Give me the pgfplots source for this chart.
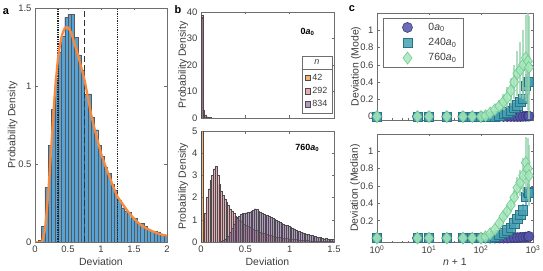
\documentclass[border=0pt]{standalone}
\usepackage{fontspec}
\setmainfont{Liberation Sans}
\usepackage{pgfplots}
\usepackage{pgfplotstable}
\pgfplotsset{compat=1.18}
\definecolor{txt}{RGB}{60,60,60}
\definecolor{axc}{RGB}{110,110,110}
\definecolor{barblue}{RGB}{88,163,214}
\definecolor{fitor}{RGB}{247,138,62}
\definecolor{cA}{RGB}{240,130,20}
\definecolor{cB}{RGB}{215,115,130}
\definecolor{cC}{RGB}{125,85,155}
\definecolor{pcirc}{RGB}{85,85,170}
\definecolor{pcircd}{RGB}{55,55,125}
\definecolor{tsq}{RGB}{70,160,178}
\definecolor{tsqd}{RGB}{40,115,135}
\definecolor{gdi}{RGB}{165,232,188}
\definecolor{gdid}{RGB}{115,200,145}

% panel a histogram (left edge, density)
\pgfplotstableread{
x y
0 0
0.05 0.01
0.10 0.1
0.15 0.35
0.20 0.62
0.25 0.85
0.30 1.05
0.35 1.22
0.40 1.32
0.45 1.44
0.50 1.46
0.55 1.46
0.60 1.31
0.65 1.2
0.70 1.1
0.75 0.95
0.80 0.95
0.85 0.8
0.90 0.72
0.95 0.62
1.00 0.55
1.05 0.48
1.10 0.44
1.15 0.37
1.20 0.33
1.25 0.27
1.30 0.22
1.35 0.2
1.40 0.19
1.45 0.15
1.50 0.15
1.55 0.12
1.60 0.12
1.65 0.1
1.70 0.08
1.75 0.07
1.80 0.07
1.85 0.065
1.90 0.05
1.95 0.04
2.00 0.04
}\histA
\pgfplotstableread{
x y
0 0
0.1 0
0.15 0.08
0.2 0.31
0.25 0.63
0.3 0.95
0.35 1.18
0.4 1.31
0.45 1.37
0.5 1.375
0.55 1.34
0.6 1.27
0.65 1.2
0.7 1.12
0.75 1.04
0.8 0.93
0.85 0.82
0.9 0.73
1.0 0.57
1.1 0.45
1.2 0.34
1.25 0.29
1.3 0.26
1.4 0.2
1.5 0.15
1.6 0.11
1.7 0.085
1.8 0.065
1.9 0.05
2.0 0.04
}\fitA
% panel b bottom, n=292
\pgfplotstableread{
x y
0.02 0.5
0.04 1.3
0.06 2.0
0.08 2.4
0.10 2.8
0.12 3.0
0.14 3.3
0.16 3.42
0.18 3.0
0.20 2.6
0.22 2.3
0.24 2.1
0.26 1.95
0.28 1.8
0.30 1.65
0.32 1.5
0.34 1.4
0.36 1.28
0.38 1.18
0.40 1.1
0.42 1.0
0.44 0.95
0.46 0.88
0.48 0.8
0.50 0.75
0.52 0.7
0.54 0.66
0.56 0.62
0.58 0.58
0.60 0.55
0.62 0.52
0.64 0.48
0.66 0.45
0.68 0.42
0.70 0.4
0.72 0.37
0.74 0.35
0.76 0.32
0.78 0.3
0.80 0.28
0.82 0.26
0.84 0.24
0.86 0.22
0.88 0.21
0.90 0.2
0.92 0.18
0.94 0.17
0.96 0.16
0.98 0.15
1.00 0.15
1.02 0.13
1.04 0.12
1.06 0.12
1.08 0.11
1.10 0.1
1.12 0.09
1.14 0.09
1.16 0.08
1.18 0.08
1.20 0.07
1.22 0.06
1.24 0.06
1.26 0.05
1.28 0.05
1.30 0.05
1.32 0.04
1.34 0.04
1.36 0.03
1.38 0.03
1.40 0.03
1.42 0.03
1.44 0.02
1.46 0.02
1.48 0.02
1.50 0.02
}\histBb
% panel b bottom, n=834
\pgfplotstableread{
x y
0.20 0.02
0.22 0.05
0.24 0.08
0.26 0.12
0.28 0.18
0.30 0.28
0.32 0.45
0.34 0.62
0.36 0.8
0.38 0.95
0.40 1.08
0.42 1.18
0.44 1.25
0.46 1.28
0.48 1.3
0.50 1.32
0.52 1.33
0.54 1.36
0.56 1.4
0.58 1.45
0.60 1.5
0.62 1.47
0.64 1.4
0.66 1.35
0.68 1.3
0.70 1.27
0.72 1.22
0.74 1.2
0.76 1.15
0.78 1.1
0.80 1.07
0.82 1.02
0.84 0.98
0.86 0.92
0.88 0.88
0.90 0.85
0.92 0.8
0.94 0.77
0.96 0.75
0.98 0.72
1.00 0.68
1.02 0.62
1.04 0.6
1.06 0.55
1.08 0.5
1.10 0.47
1.12 0.45
1.14 0.42
1.16 0.38
1.18 0.35
1.20 0.34
1.22 0.3
1.24 0.32
1.26 0.28
1.28 0.27
1.30 0.22
1.32 0.2
1.34 0.23
1.36 0.18
1.38 0.15
1.40 0.16
1.42 0.12
1.44 0.13
1.46 0.11
1.48 0.12
1.50 0.12
}\histBc
% panel c: n+1, mode (value, error) for 0a0 (p), 240a0 (t), 760a0 (g)
\pgfplotstableread{
x pm pme tm tme gm gme
1 0 0 0 0 0 0
6 0 0 0 0 0 0
10 0 0 0 0 0 0
22 0 0 0 0 0 0
45 0 0 0 0 0 0
68 0 0 0 0 0 0
100 0 0 0 0 0 0
122 0 0.003 0 0 0.01 0.02
150 0 0.003 0 0.005 0.04 0.03
185 0 0.004 0.003 0.01 0.08 0.05
225 0 0.004 0.01 0.015 0.12 0.07
270 0 0.005 0.03 0.02 0.17 0.09
320 0 0.005 0.05 0.03 0.22 0.12
375 0 0.005 0.07 0.04 0.3 0.15
435 0 0.006 0.1 0.05 0.4 0.2
500 0 0.006 0.13 0.06 0.5 0.26
570 0 0.007 0.17 0.08 0.54 0.32
645 0.002 0.008 0.21 0.1 0.6 0.4
725 0.003 0.01 0.36 0.13 0.68 0.5
800 0.005 0.01 0.4 0.15 0.64 0.56
835 0.005 0.01 0.4 0.15 0.57 0.6
}\modeC
% panel c: median
\pgfplotstableread{
x pm pme tm tme gm gme
1 0 0 0 0 0 0
6 0 0 0 0 0 0
10 0 0 0 0 0 0
22 0 0 0 0 0 0
45 0 0 0 0 0 0
68 0 0 0 0 0 0
100 0 0 0 0 0 0
122 0 0.002 0.002 0.003 0.015 0.01
150 0 0.002 0.006 0.005 0.05 0.02
185 0 0.003 0.02 0.01 0.1 0.03
225 0 0.003 0.035 0.015 0.17 0.04
270 0 0.004 0.06 0.02 0.25 0.05
320 0 0.004 0.09 0.02 0.31 0.06
375 0.002 0.005 0.12 0.03 0.38 0.07
435 0.004 0.005 0.17 0.035 0.47 0.09
500 0.006 0.006 0.22 0.04 0.58 0.12
570 0.008 0.006 0.27 0.05 0.64 0.15
645 0.01 0.007 0.32 0.07 0.72 0.2
725 0.012 0.008 0.48 0.1 0.87 0.3
800 0.015 0.01 0.53 0.11 0.8 0.35
835 0.02 0.01 0.52 0.1 0.72 0.35
}\medC

\pgfplotsset{
  mystyle/.style={
    scale only axis,
    axis line style={axc, line width=0.5bp},
    every tick/.style={axc, line width=0.5bp},
    tick align=inside,
    major tick length=2.5bp, minor tick length=1.5bp,
    tick label style={font=\fontsize{9.5}{11}\selectfont, text=txt},
    label style={font=\fontsize{10.5}{12}\selectfont, text=txt},
    /pgf/number format/assume math mode=true,
  },
  histb/.style={ybar interval, draw=black!70, line width=0.3bp, fill opacity=0.6,
    legend image code/.code={\draw[##1, draw=black!70, line width=0.4bp] (0bp,-2.7bp) rectangle (5.4bp,2.7bp);}},
  pser/.style={only marks, mark=*, mark size=5bp, mark options={fill=pcirc, draw=pcircd, line width=0.6bp, fill opacity=0.85},
    error bars/.cd, y dir=both, y explicit, error mark=none, error bar style={pcirc, line width=1.6bp, opacity=0.7}},
  tser/.style={only marks, mark=square*, mark size=4.6bp, mark options={fill=tsq, draw=tsqd, line width=0.6bp, fill opacity=0.85},
    error bars/.cd, y dir=both, y explicit, error mark=none, error bar style={tsq, line width=1.8bp, opacity=0.7}},
  gser/.style={only marks, mark=diamond*, mark size=6bp, mark options={fill=gdi, draw=gdid, line width=0.6bp, fill opacity=0.85},
    error bars/.cd, y dir=both, y explicit, error mark=none, error bar style={gdi!90!black, line width=2.2bp, opacity=0.75}},
}

\begin{document}
\begin{tikzpicture}
% ---------------- panel a ----------------
\begin{axis}[mystyle, at={(35bp,29bp)}, anchor=south west, width=132bp, height=234bp,
  xmin=0, xmax=2, ymin=0, ymax=1.5, xtick={0,0.5,1,1.5,2}, ytick={0,0.5,1,1.5},
  xlabel={Deviation}, ylabel={Probability Density},
  ylabel style={at={(axis description cs:-0.17,0.5)}, anchor=center},
  xlabel style={at={(axis description cs:0.5,-0.085)}, anchor=center}]
\addplot[ybar interval, fill=barblue, draw=black!65, line width=0.3bp] table[x=x,y=y] {\histA};
\addplot[densely dotted, black!85, line width=1.3bp] coordinates {(0.35,0) (0.35,1.5)};
\addplot[densely dotted, black!85, line width=1.3bp] coordinates {(1.25,0) (1.25,1.5)};
\addplot[dash pattern=on 6bp off 3bp, black!80, line width=1.6bp] coordinates {(0.75,0) (0.75,1.5)};
\addplot[fitor, line width=2.3bp, smooth, tension=0.4] table[x=x,y=y] {\fitA};
\end{axis}
% ---------------- panel b top ----------------
\begin{axis}[mystyle, at={(201bp,153bp)}, anchor=south west, width=133bp, height=106bp,
  xmin=0, xmax=1.5, ymin=0, ymax=40, xtick={0,0.5,1,1.5}, xticklabels={}, ytick={0,10,20,30,40},
  ylabel={Probability Density},
  ylabel style={at={(axis description cs:-0.135,0.5)}, anchor=center},
  legend cell align=left,
  legend style={name=blegend, at={(0.985,0.047)}, anchor=south east, draw=axc, line width=0.5bp, fill=white,
    font=\fontsize{9}{9.5}\selectfont, text=txt, inner xsep=2.5bp, inner ysep=2.5bp, row sep=1.5bp}]
\addplot[histb, fill=cA] coordinates {(0,38.8) (0.02,0.4) (0.04,0.4)};
\addlegendentry{42\hspace{6bp}}
\addplot[histb, fill=cB] coordinates {(0,38.2) (0.02,1.5) (0.04,0.3) (0.06,0.1) (0.08,0.1)};
\addlegendentry{292}
\addplot[histb, fill=cC] coordinates {(0,37.6) (0.02,3.0) (0.04,1.2) (0.06,0.5) (0.08,0.3) (0.1,0.15) (0.12,0.08) (0.14,0.05) (0.16,0.05)};
\addlegendentry{834}
\node[anchor=east, font=\bfseries\fontsize{9}{10}\selectfont, text=black] at (axis description cs:0.88,0.81) {0\textit{a}\textsubscript{0}};
\end{axis}
\draw[axc, line width=0.5bp, fill=white] (blegend.north west) -- ++(0,13.5bp) -| (blegend.north east);
\node[font=\fontsize{9}{10}\selectfont, text=txt] at ([yshift=6.8bp]blegend.north) {\textit{n}};
% ---------------- panel b bottom ----------------
\begin{axis}[mystyle, at={(201bp,29bp)}, anchor=south west, width=133bp, height=111bp,
  xmin=0, xmax=1.5, ymin=0, ymax=5, xtick={0,0.5,1,1.5}, ytick={0,1,2,3,4,5},
  xlabel={Deviation}, ylabel={Probability Density},
  ylabel style={at={(axis description cs:-0.135,0.5)}, anchor=center},
  xlabel style={at={(axis description cs:0.5,-0.18)}, anchor=center}]
\addplot[histb, fill=cA] coordinates {(0,45) (0.02,1.1) (0.04,1.1)};
\addplot[histb, fill=cB] table[x=x,y=y] {\histBb};
\addplot[histb, fill=cC] table[x=x,y=y] {\histBc};
\node[anchor=east, font=\bfseries\fontsize{9}{10}\selectfont, text=black] at (axis description cs:0.915,0.845) {760\textit{a}\textsubscript{0}};
\end{axis}
% ---------------- panel c top ----------------
\begin{axis}[mystyle, at={(377bp,151bp)}, anchor=south west, width=156bp, height=107bp,
  xmode=log, xmin=1, xmax=1000, ymin=-0.04, ymax=1.2, xtick={1,10,100,1000}, xticklabels={},
  ytick={0,0.2,0.4,0.6,0.8,1}, ylabel={Deviation (Mode)},
  ylabel style={at={(axis description cs:-0.135,0.5)}, anchor=center},
  clip mode=individual,
  legend cell align=left,
  legend style={at={(0.04,0.955)}, anchor=north west, draw=axc, line width=0.5bp, fill=white,
    font=\fontsize{10.5}{12}\selectfont, text=txt, inner xsep=5bp, inner ysep=3bp, row sep=2.5bp},
  legend image code/.code={\path[draw=none,fill=none] (0bp,-5bp) rectangle (38bp,5bp); \draw[mark repeat=2,mark phase=2,#1] plot coordinates {(0bp,0bp) (19bp,0bp) (38bp,0bp)};}]
\addplot[pser] table[x=x,y=pm,y error=pme] {\modeC};
\addlegendentry{0\textit{a}\textsubscript{0}}
\addplot[tser] table[x=x,y=tm,y error=tme] {\modeC};
\addlegendentry{240\textit{a}\textsubscript{0}}
\addplot[gser] table[x=x,y=gm,y error=gme] {\modeC};
\addlegendentry{760\textit{a}\textsubscript{0}}
\end{axis}
% ---------------- panel c bottom ----------------
\begin{axis}[mystyle, at={(377bp,29bp)}, anchor=south west, width=156bp, height=108bp,
  xmode=log, xmin=1, xmax=1000, ymin=-0.045, ymax=1.2, xtick={1,10,100,1000},
  xticklabels={10\textsuperscript{0},10\textsuperscript{1},10\textsuperscript{2},10\textsuperscript{3}},
  ytick={0.2,0.4,0.6,0.8,1}, ylabel={Deviation (Median)}, xlabel={\textit{n} + 1},
  ylabel style={at={(axis description cs:-0.14,0.5)}, anchor=center},
  xlabel style={at={(axis description cs:0.5,-0.18)}, anchor=center},
  clip mode=individual]
\addplot[pser] table[x=x,y=pm,y error=pme] {\medC};
\addplot[tser] table[x=x,y=tm,y error=tme] {\medC};
\addplot[gser] table[x=x,y=gm,y error=gme] {\medC};
\end{axis}
% panel letters
\node[font=\bfseries\fontsize{11}{12}\selectfont] at (6bp,259.5bp) {a};
\node[font=\bfseries\fontsize{11}{12}\selectfont] at (178bp,261bp) {b};
\node[font=\bfseries\fontsize{11}{12}\selectfont] at (352bp,262bp) {c};
\pgfresetboundingbox
\useasboundingbox (0bp,0bp) rectangle (543bp,271bp);
\end{tikzpicture}
\end{document}
